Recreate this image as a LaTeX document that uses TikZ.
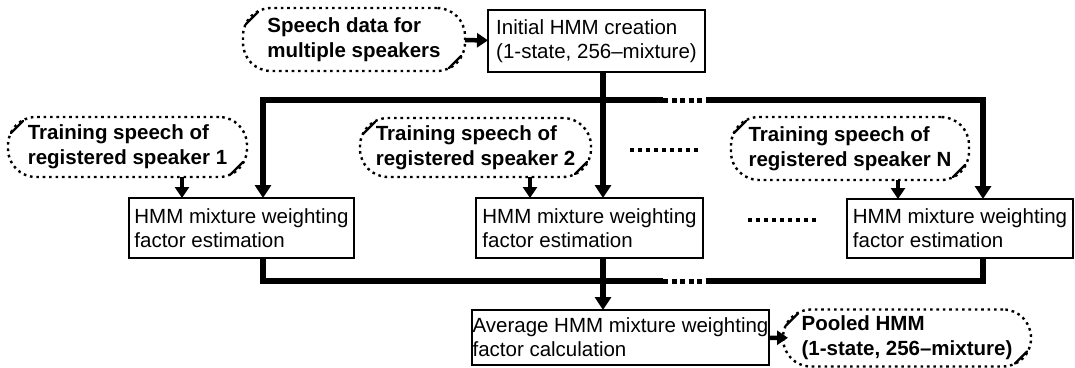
\documentclass[tikz,border=0pt]{standalone}
\usepackage{fontspec}
\setmainfont{Liberation Sans}
\usetikzlibrary{arrows.meta}
\begin{document}
\begin{tikzpicture}[x=1pt,y=-1pt,
  every node/.style={inner sep=0pt,outer sep=0pt},
  procbox/.style={draw,line width=2.2pt,align=left,font=\fontsize{20.5}{24}\selectfont},
  databox/.style={draw,line width=2.4pt,dash pattern=on 2.6pt off 3.8pt,rounded corners=28pt,align=left,font=\fontsize{20.5}{25}\selectfont\bfseries},
  slashmark/.style={line width=2.2pt,line cap=round},
  bus/.style={line width=6pt,line join=miter},
  busarrow/.style={bus,-{Triangle[width=16pt,length=13pt]}},
  busdots/.style={line width=5pt,dash pattern=on 5pt off 3.5pt},
  feed/.style={line width=4.5pt,-{Triangle[width=14pt,length=11pt]}},
  ellipsisdots/.style={line width=4pt,dash pattern=on 4pt off 4pt}
]
\useasboundingbox (0,0) rectangle (1075,367);
\newcommand\cornerslash[1]{%
  \draw[slashmark] ([shift={(3,16)}]#1.north west) -- ([shift={(15,4)}]#1.north west);
  \draw[slashmark] ([shift={(-16,-3)}]#1.south east) -- ([shift={(-4,-15)}]#1.south east);}

% data (dotted) nodes
\node[databox,minimum width=222pt,minimum height=63pt] (S0) at (354,39.5) {Speech data for\\multiple speakers};
\node[databox,minimum width=239pt,minimum height=60pt] (T1) at (127.5,147) {Training speech of\\registered speaker 1};
\node[databox,minimum width=231pt,minimum height=59pt] (T2) at (475.5,147.5) {Training speech of\\registered speaker 2};
\node[databox,minimum width=238pt,minimum height=63pt] (TN) at (850,148.5) {Training speech of\\registered speaker N};
\node[databox,minimum width=248pt,minimum height=57pt] (Pool) at (907,338) {Pooled HMM\\(1-state, 256–mixture)};
\cornerslash{S0}\cornerslash{T1}\cornerslash{T2}\cornerslash{TN}\cornerslash{Pool}

% process boxes
\node[procbox,minimum width=217pt,minimum height=62pt] (Init) at (596.5,41) {Initial HMM creation\\(1-state, 256–mixture)};
\node[procbox,minimum width=225pt,minimum height=60pt] (B1) at (241.5,228) {HMM mixture weighting\\factor estimation};
\node[procbox,minimum width=227pt,minimum height=60pt] (B2) at (589.5,228) {HMM mixture weighting\\factor estimation};
\node[procbox,minimum width=226pt,minimum height=59pt] (BN) at (960,228.5) {HMM mixture weighting\\factor estimation};
\node[procbox,minimum width=297pt,minimum height=55pt] (Avg) at (620.5,337.5) {Average HMM mixture weighting\\factor calculation};

% bus coordinates
\coordinate (tl) at (263,100);
\coordinate (tj) at (603,100);
\coordinate (td1) at (663,100);
\coordinate (td2) at (706,100);
\coordinate (tr) at (983,100);
\coordinate (bl) at (263,281);
\coordinate (bj) at (603,281);
\coordinate (bd1) at (663,281);
\coordinate (bd2) at (706,281);
\coordinate (br) at (983,281);
\coordinate (a1) at (182,0);
\coordinate (a2) at (530,0);
\coordinate (aN) at (898,0);

% connectors
\draw[feed] (S0) -- (Init);
\draw[busarrow] (Init.south -| tj) -- (B2.north -| tj);
\draw[busarrow] (td1) -- (tl) -- (B1.north -| tl);
\draw[busarrow] (td2) -- (tr) -- (BN.north -| tr);
\draw[busdots] (td1) -- (td2);

\draw[feed] (T1.south -| a1) -- (B1.north -| a1);
\draw[feed] (T2.south -| a2) -- (B2.north -| a2);
\draw[feed] (TN.south -| aN) -- (BN.north -| aN);

\draw[bus] (B1.south -| bl) -- (bl) -- (bd1);
\draw[bus] (BN.south -| br) -- (br) -- (bd2);
\draw[busdots] (bd1) -- (bd2);
\draw[busarrow] (B2.south -| bj) -- (Avg.north -| bj);

\draw[feed,shorten >=-5pt] (Avg) -- (Pool);

% ellipsis dots
\draw[ellipsisdots] (630,150) -- (701,150);
\draw[ellipsisdots] (748,220) -- (818,220);
\end{tikzpicture}
\end{document}
